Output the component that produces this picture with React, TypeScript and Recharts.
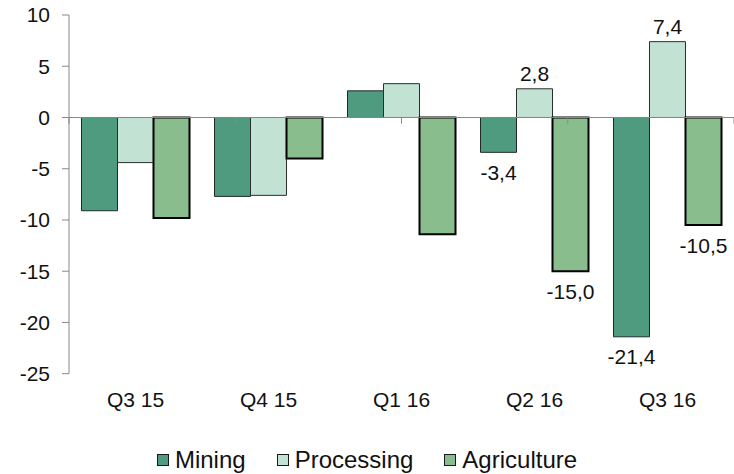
import React from 'react';
import {
  BarChart,
  Bar,
  XAxis,
  YAxis,
  ReferenceLine,
  LabelList,
} from 'recharts';

const quarters = ['Q3 15', 'Q4 15', 'Q1 16', 'Q2 16', 'Q3 16'];
const mining = [-9.1, -7.7, 2.6, -3.4, -21.4];
const processing = [-4.4, -7.6, 3.3, 2.8, 7.4];
const agriculture = [-9.8, -4.0, -11.4, -15.0, -10.5];
// only the last two quarters carry value labels
const labelledQuarters = ['Q2 16', 'Q3 16'];
const yTicks = [-25, -20, -15, -10, -5, 0, 5, 10];
const boundaries = [0, 1, 2, 3, 4, 5];

const series = [
  { key: 'mining', name: 'Mining', fill: '#4f9b80', stroke: '#1e2b25', strokeWidth: 1 },
  { key: 'processing', name: 'Processing', fill: '#c2e2d4', stroke: '#2a2f2c', strokeWidth: 1 },
  { key: 'agriculture', name: 'Agriculture', fill: '#8abd8e', stroke: '#000000', strokeWidth: 2 },
];

const data = quarters.map((q, i) => {
  const show = labelledQuarters.includes(q);
  return {
    quarter: q,
    idx: i + 0.5,
    mining: mining[i],
    processing: processing[i],
    agriculture: agriculture[i],
    miningLabel: show ? mining[i] : null,
    processingLabel: show ? processing[i] : null,
    agricultureLabel: show ? agriculture[i] : null,
  };
});

const FONT = '"Liberation Sans", Arial, sans-serif';

const ValueLabel = (props: any) => {
  const { x, y, width, height, value } = props;
  if (value === null || value === undefined) return null;
  const top = Math.min(Number(y), Number(y) + Number(height));
  const bottom = Math.max(Number(y), Number(y) + Number(height));
  const cx = Number(x) + Number(width) / 2;
  const ty = value >= 0 ? top - 15 : bottom + 20;
  return (
    <text
      x={cx}
      y={ty}
      textAnchor="middle"
      dominantBaseline="central"
      fontSize={21}
      fontFamily={FONT}
      fill="#111"
    >
      {Number(value).toFixed(1).replace('.', ',')}
    </text>
  );
};

export default function App() {
  return (
    <div style={{ position: 'absolute', left: 0, top: 0, width: 734, height: 474, background: '#fff', fontFamily: FONT }}>
      <BarChart
        width={734}
        height={474}
        data={data}
        margin={{ top: 15, right: 0, left: 0, bottom: 60.3 }}
        barCategoryGap="9.4%"
        barGap={0}
      >
        <XAxis
          dataKey="quarter"
          axisLine={false}
          tickLine={false}
          tickSize={0}
          tickMargin={18}
          interval={0}
          tick={{ fontSize: 21, fill: '#111', fontFamily: FONT }}
          height={40}
        />
        <XAxis xAxisId="grid" type="number" domain={[0, 5]} hide />
        <YAxis
          domain={[-25, 10]}
          ticks={yTicks}
          width={69}
          interval={0}
          axisLine={{ stroke: '#888' }}
          tickLine={{ stroke: '#888' }}
          tickSize={7}
          tickMargin={12}
          tick={{ fontSize: 21, fill: '#111', fontFamily: FONT }}
        />
        {series.map((s) => (
          <Bar
            key={s.key}
            dataKey={s.key}
            name={s.name}
            fill={s.fill}
            stroke={s.stroke}
            strokeWidth={s.strokeWidth}
            isAnimationActive={false}
          >
            <LabelList dataKey={`${s.key}Label`} content={ValueLabel} />
          </Bar>
        ))}
        <ReferenceLine y={0} stroke="#888" strokeWidth={1} />
        {boundaries.map((b) => (
          <ReferenceLine
            key={b}
            xAxisId="grid"
            segment={[{ x: b, y: 0 }, { x: b, y: -0.6 }]}
            stroke="#888"
            strokeWidth={1}
            ifOverflow="visible"
          />
        ))}
      </BarChart>
      <div
        style={{
          position: 'absolute',
          top: 448,
          left: 0,
          width: 734,
          display: 'flex',
          justifyContent: 'center',
          alignItems: 'center',
          lineHeight: '24px',
          fontSize: 24,
          color: '#111',
        }}
      >
        {series.map((s, i) => (
          <div key={s.key} style={{ display: 'flex', alignItems: 'center', marginLeft: i === 0 ? 0 : 31 }}>
            <span
              style={{
                display: 'inline-block',
                width: 12,
                height: 12,
                boxSizing: 'border-box',
                background: s.fill,
                border: '1.5px solid #1a1a1a',
                marginRight: 6,
              }}
            />
            <span>{s.name}</span>
          </div>
        ))}
      </div>
    </div>
  );
}
